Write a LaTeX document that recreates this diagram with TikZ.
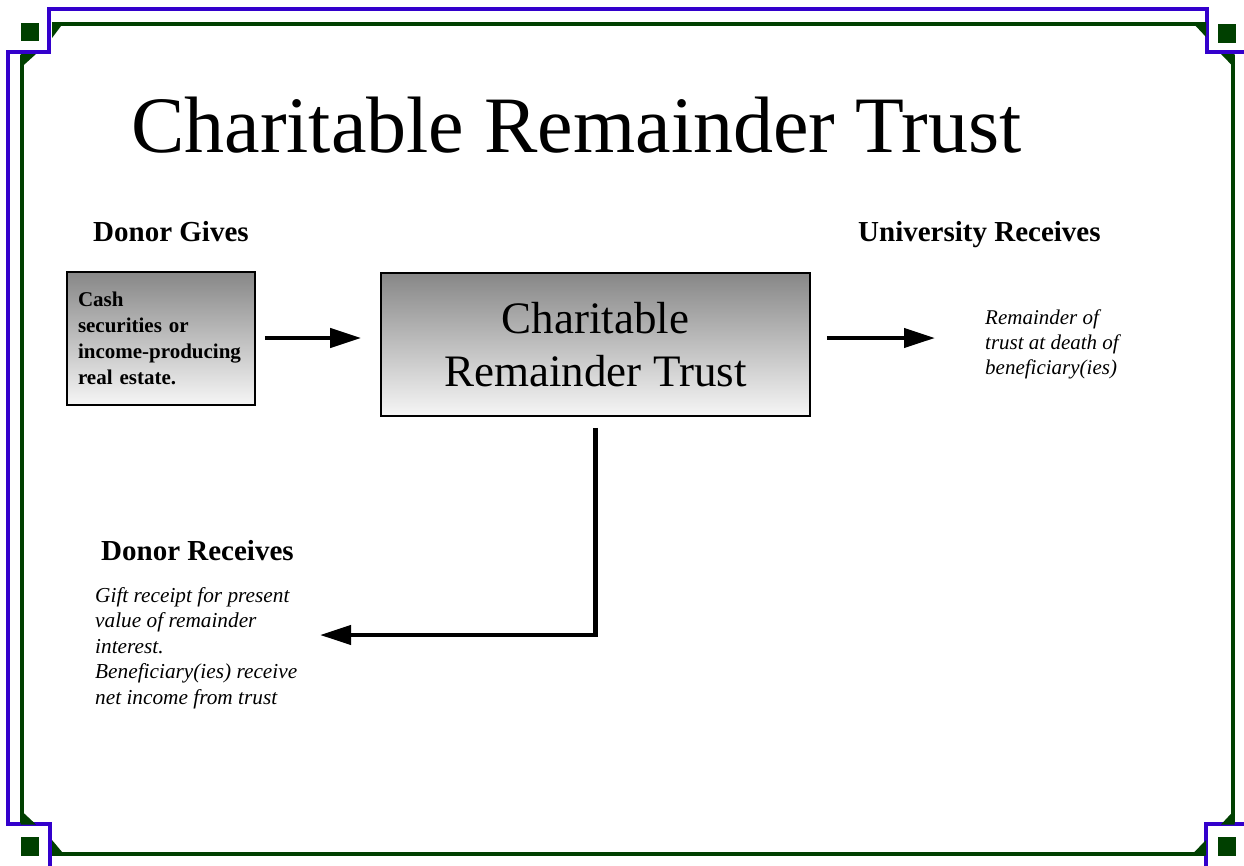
\documentclass[tikz,border=0pt]{standalone}
\usepackage{fontspec}
\setmainfont{Liberation Serif}
\usetikzlibrary{arrows.meta,shadings}
\definecolor{framblue}{RGB}{51,0,204}
\definecolor{framgreen}{RGB}{0,64,0}
\definecolor{boxtop}{RGB}{135,135,135}
\definecolor{boxbot}{RGB}{246,246,246}
\begin{document}
\begin{tikzpicture}[x=1pt,y=-1pt,
  blueline/.style={draw=framblue,line width=3.2pt},
  greenline/.style={draw=framgreen,line width=3.2pt},
  greenfill/.style={fill=framgreen},
  gbox/.style={draw=black,line width=1.6pt,top color=boxtop,bottom color=boxbot},
  head/.style={font=\fontsize{29}{34}\selectfont\bfseries,anchor=base west,inner sep=0pt},
  flow/.style={line width=4.2pt,-{Triangle[length=31pt,width=19pt]}},
]
\useasboundingbox (0,0) rectangle (1244,865);
\fill[white] (0,0) rectangle (1244,865);
% blue outer frame
\begin{scope}
\clip (0,0) rectangle (1244,865);
\draw[blueline] (49,9) -- (1207,9) -- (1207,52) -- (1260,52) -- (1260,824) -- (1206,824) -- (1206,880) -- (50,880) -- (50,824) -- (8,824) -- (8,52) -- (49,52) -- cycle;
\end{scope}
% green inner frame lines
\draw[greenline] (52,24) -- (1205,24);
\draw[greenline] (52,854) -- (1205,854);
\draw[greenline] (22,55) -- (22,823);
\draw[greenline] (1233,55) -- (1233,823);
% green corner triangles
\fill[greenfill] (52,22) -- (64,22) -- (52,38) -- cycle;
\fill[greenfill] (20.5,54) -- (36,54) -- (20.5,68) -- cycle;
\fill[greenfill] (1192,22) -- (1206,22) -- (1206,37) -- cycle;
\fill[greenfill] (1221,54) -- (1234.5,54) -- (1234.5,68) -- cycle;
\fill[greenfill] (20.5,810) -- (20.5,824.5) -- (36,824.5) -- cycle;
\fill[greenfill] (52,840) -- (52,855.5) -- (65,855.5) -- cycle;
\fill[greenfill] (1234.5,810) -- (1234.5,824.5) -- (1221,824.5) -- cycle;
\fill[greenfill] (1191,855.5) -- (1206,855.5) -- (1206,840) -- cycle;
% green squares
\fill[greenfill] (21,23) rectangle (39,41);
\fill[greenfill] (1218,24) rectangle (1236,43);
\fill[greenfill] (21,837) rectangle (39,856);
\fill[greenfill] (1218,837) rectangle (1236,856);
% title and headings
\node[anchor=base west,inner sep=0pt,font=\fontsize{80}{96}\selectfont] (title) at (131,152) {Charitable Remainder Trust};
\node[head] (dg) at (93,241) {Donor Gives};
\node[head] (ur) at (858,241) {University Receives};
\node[head] (dr) at (101,560) {Donor Receives};
% boxes
\node[gbox,minimum width=188pt,minimum height=133pt,text width=166pt,align=left,inner xsep=11pt,font=\fontsize{21}{26}\selectfont\bfseries] (src) at (161,338.5) {Cash\\securities or\\income-producing\\real estate.};
\node[gbox,minimum width=429pt,minimum height=143pt,align=center,font=\fontsize{45}{53}\selectfont] (crt) at (595.5,344.5) {Charitable\\Remainder Trust};
% italic texts
\node[anchor=base west,inner sep=0pt] (rem) at (985,324) {\itshape\fontsize{21}{25}\selectfont\vtop{\hbox{Remainder of}\hbox{trust at death of}\hbox{beneficiary(ies)}}};
\node[anchor=base west,inner sep=0pt] (gift) at (95,602) {\itshape\fontsize{21.3}{25.5}\selectfont\vtop{\hbox{Gift receipt for present}\hbox{value of remainder}\hbox{interest.}\hbox{Beneficiary(ies) receive}\hbox{net income from trust}}};
\coordinate (dtip) at (320,635);
% connectors
\draw[flow,shorten <=9pt,shorten >=19pt] (src.east |- 0,338) -- (crt.west |- 0,338);
\draw[flow,shorten <=16pt,shorten >=50pt] (crt.east |- 0,338) -- (rem.west |- 0,338);
\draw[flow,shorten <=11pt] (crt.south) |- (dtip);
\end{tikzpicture}
\end{document}
